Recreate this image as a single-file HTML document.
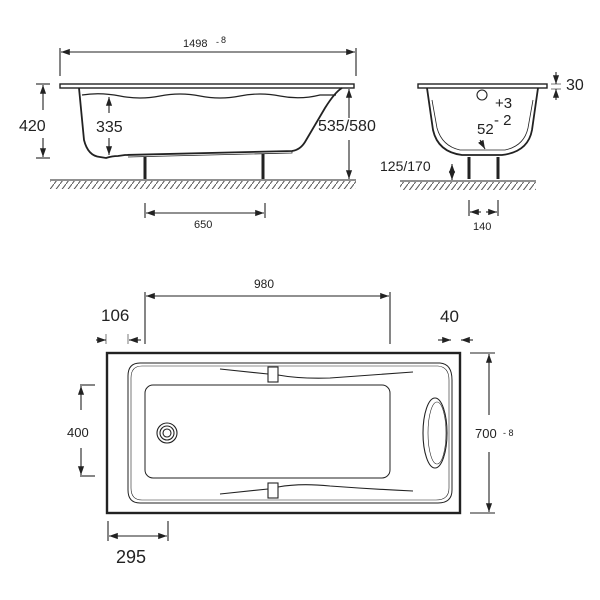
<!DOCTYPE html>
<html><head><meta charset="utf-8"><style>
html,body{margin:0;padding:0;background:#fff;}
svg{display:block;}
text{font-family:"Liberation Sans",sans-serif;fill:#222;}
</style></head><body>
<svg width="600" height="600" viewBox="0 0 600 600" xmlns="http://www.w3.org/2000/svg">
<defs>
<marker id="a" viewBox="0 0 10 10" refX="10" refY="5" markerWidth="8" markerHeight="8" orient="auto-start-reverse"><path d="M0,1.5 L10,5 L0,8.5 z" fill="#222"/></marker>
<pattern id="h" width="6" height="8" patternUnits="userSpaceOnUse"><path d="M6,0 L0,8" stroke="#555" stroke-width="1"/></pattern>
</defs>
<g stroke="#222" fill="none" stroke-width="1.1">
<!-- SIDE VIEW -->
<line x1="60" y1="48" x2="60" y2="76"/><line x1="356" y1="48" x2="356" y2="76"/>
<line x1="61" y1="52" x2="355" y2="52" marker-start="url(#a)" marker-end="url(#a)"/>
<rect x="60" y="84" width="294" height="4" stroke-width="1.4"/>
<path d="M79,88 L84,140 Q88,156 100,157 L106,158 Q112,156 118,156 L125,155 L292,151 Q300,150 305,142 L325,108 Q335,92 342,88" stroke-width="1.8"/>
<path d="M82,95 Q100,92 120,96 T160,96 T200,96 T240,96 T280,96 T320,95 L336,95" stroke-width="1.2"/>
<path d="M128,155 L292,151 L292,153 L128,157" stroke-width="0.8"/>
<line x1="145" y1="157" x2="145" y2="179" stroke-width="3"/><line x1="263" y1="154" x2="263" y2="179" stroke-width="3"/>
<line x1="50" y1="180" x2="356" y2="180"/>
<rect x="50" y="181" width="306" height="8" fill="url(#h)" stroke="none"/>
<line x1="36" y1="84" x2="50" y2="84"/><line x1="36" y1="158" x2="50" y2="158"/>
<line x1="43" y1="85" x2="43" y2="110" marker-start="url(#a)"/><line x1="43" y1="138" x2="43" y2="157" marker-end="url(#a)"/>
<line x1="109" y1="97" x2="109" y2="113" marker-start="url(#a)"/><line x1="109" y1="138" x2="109" y2="155" marker-end="url(#a)"/>
<line x1="349" y1="89" x2="349" y2="118" marker-start="url(#a)"/><line x1="349" y1="140" x2="349" y2="179" marker-end="url(#a)"/>
<line x1="145" y1="203" x2="145" y2="218"/><line x1="265" y1="203" x2="265" y2="218"/>
<line x1="146" y1="213" x2="264" y2="213" marker-start="url(#a)" marker-end="url(#a)"/>
<!-- END VIEW -->
<rect x="418" y="84" width="129" height="4" stroke-width="1.4"/>
<path d="M427,88 L433,130 Q438,152 462,155 L502,155 Q528,152 532,130 L538,88" stroke-width="1.8"/>
<path d="M432,100 L437,128 Q442,146 460,150 L505,150 Q524,146 528,128 L533,100" stroke-width="0.8"/>
<circle cx="482" cy="95" r="5"/>
<line x1="480" y1="140" x2="485" y2="149" marker-end="url(#a)"/>
<line x1="469" y1="157" x2="469" y2="179" stroke-width="3"/><line x1="498" y1="157" x2="498" y2="179" stroke-width="3"/>
<line x1="400" y1="181" x2="536" y2="181"/>
<rect x="400" y="182" width="136" height="8" fill="url(#h)" stroke="none"/>
<line x1="452" y1="164" x2="452" y2="180" marker-start="url(#a)" marker-end="url(#a)"/>
<line x1="556" y1="72" x2="556" y2="84" marker-end="url(#a)"/><line x1="556" y1="100" x2="556" y2="89" marker-end="url(#a)"/>
<line x1="551" y1="84" x2="561" y2="84" stroke-width="0.6"/><line x1="551" y1="89" x2="561" y2="89" stroke-width="0.6"/>
<line x1="469" y1="200" x2="469" y2="216"/><line x1="498" y1="200" x2="498" y2="216"/>
<line x1="470" y1="212" x2="481" y2="212" marker-start="url(#a)"/><line x1="486" y1="212" x2="497" y2="212" marker-end="url(#a)"/>
<!-- TOP VIEW -->
<rect x="107" y="353" width="353" height="160" stroke-width="2.4"/>
<path d="M140,363 L440,363 Q452,364 452,380 L452,490 Q452,503 438,503 L140,503 Q128,503 128,490 L128,376 Q128,363 140,363 z" stroke-width="1"/>
<path d="M142,366 L438,366 Q449,367 449,380 L449,488 Q449,500 436,500 L142,500 Q131,500 131,488 L131,378 Q131,366 142,366 z" stroke-width="0.6"/>
<rect x="145" y="385" width="245" height="93" rx="8" stroke-width="1"/>
<circle cx="167" cy="433" r="10"/><circle cx="167" cy="433" r="7"/><circle cx="167" cy="433" r="4"/>
<ellipse cx="435" cy="433" rx="12" ry="35"/><ellipse cx="437" cy="433" rx="9" ry="31" stroke-width="0.6"/>
<path d="M220,369 L268,374 M278,375 Q300,379 330,378 Q370,375 413,372"/>
<path d="M220,494 L268,489 M278,487 Q300,483 330,486 Q370,489 413,491"/>
<rect x="268" y="367" width="10" height="15"/><rect x="268" y="483" width="10" height="15"/>
<line x1="145" y1="292" x2="145" y2="344"/><line x1="390" y1="292" x2="390" y2="344"/>
<line x1="146" y1="296" x2="389" y2="296" marker-start="url(#a)" marker-end="url(#a)"/>
<line x1="96" y1="340" x2="106" y2="340" marker-end="url(#a)"/><line x1="141" y1="340" x2="129" y2="340" marker-end="url(#a)"/>
<line x1="106" y1="334" x2="106" y2="344" stroke-width="0.6"/><line x1="128" y1="334" x2="128" y2="344" stroke-width="0.6"/>
<line x1="438" y1="340" x2="451" y2="340" marker-end="url(#a)"/><line x1="473" y1="340" x2="461" y2="340" marker-end="url(#a)"/>
<line x1="80" y1="385" x2="95" y2="385"/><line x1="80" y1="476" x2="95" y2="476"/>
<line x1="81" y1="386" x2="81" y2="410" marker-start="url(#a)"/><line x1="81" y1="448" x2="81" y2="475" marker-end="url(#a)"/>
<line x1="470" y1="353" x2="495" y2="353"/><line x1="470" y1="513" x2="495" y2="513"/>
<line x1="489" y1="354" x2="489" y2="415" marker-start="url(#a)"/><line x1="489" y1="452" x2="489" y2="512" marker-end="url(#a)"/>
<line x1="108" y1="521" x2="108" y2="541"/><line x1="168" y1="521" x2="168" y2="541"/>
<line x1="109" y1="536" x2="167" y2="536" marker-start="url(#a)" marker-end="url(#a)"/>
</g>
<text x="183" y="47" font-size="11">1498</text><text x="216" y="45" font-size="9">-</text><text x="221" y="43" font-size="9">8</text>
<text x="19" y="131" font-size="16">420</text>
<text x="96" y="132" font-size="16">335</text>
<text x="318" y="131" font-size="16">535/580</text>
<text x="194" y="228" font-size="11">650</text>
<text x="566" y="90" font-size="16">30</text>
<text x="495" y="108" font-size="15">+3</text>
<text x="494" y="125" font-size="15">- 2</text>
<text x="477" y="134" font-size="15">52</text>
<text x="380" y="171" font-size="14">125/170</text>
<text x="473" y="230" font-size="11">140</text>
<text x="254" y="288" font-size="12">980</text>
<text x="101" y="321" font-size="17">106</text>
<text x="440" y="322" font-size="17">40</text>
<text x="67" y="437" font-size="13">400</text>
<text x="475" y="438" font-size="13">700</text><text x="503" y="436" font-size="9">- 8</text>
<text x="116" y="563" font-size="18">295</text>
</svg>
</body></html>
